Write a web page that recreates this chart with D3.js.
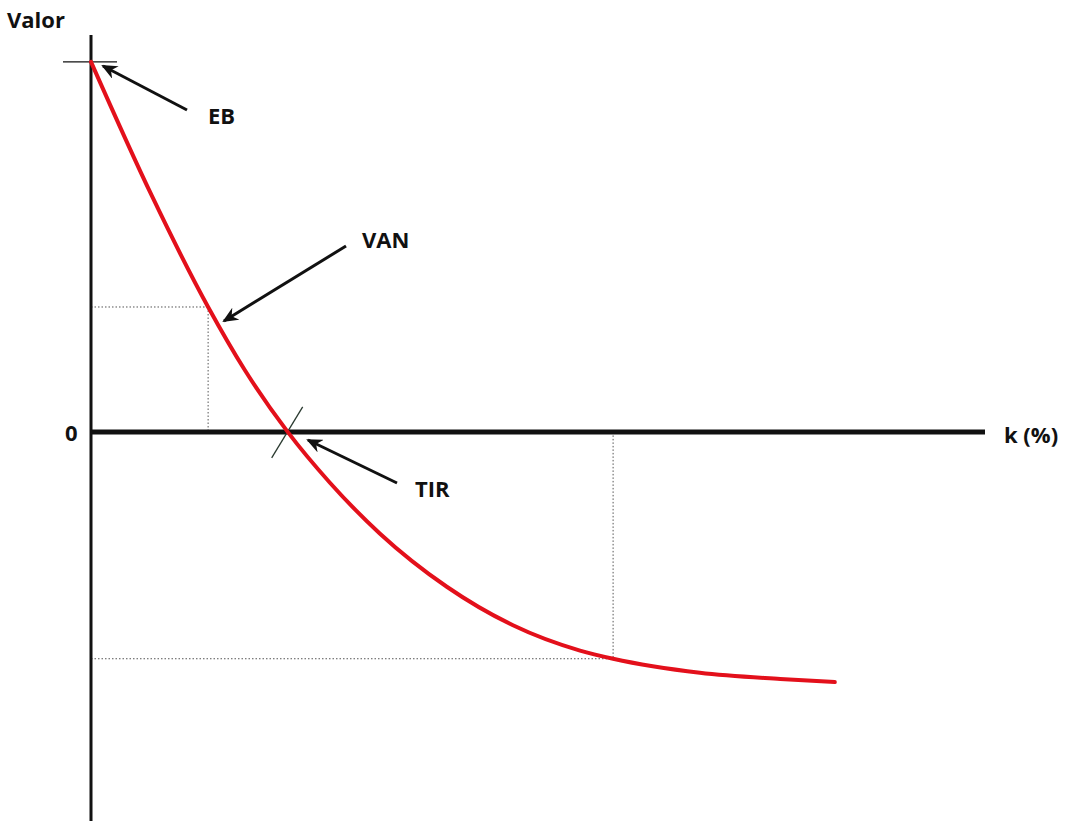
<!DOCTYPE html>
<html>
<head>
<meta charset="utf-8">
<script src="https://cdn.jsdelivr.net/npm/d3@7"></script>
<style>
  body { margin: 0; background: #fff; }
  text { font-family: "Open Sans", Lato, sans-serif; font-weight: bold; fill: #111; }
</style>
</head>
<body>
<div id="main"></div>
<script>
// curve of VAN against discount rate k (arbitrary units)
const kValues = [0, 6.8, 13.1, 17.2, 22, 26.7, 32.3, 39.8, 47.2, 54.7, 58.4, 68.1, 77.1, 83.2];
const vanValues = [95.1, 60.7, 32.1, 15.9, 0, -13, -26.1, -39.8, -49.7, -56.2, -58.3, -61.9, -63.5, -64.3];

// marked points: EB (k=0), VAN at a chosen k, TIR (van=0), a negative point
const ebPoint = { k: 0, v: 95.1 };
const vanPoint = { k: 13.1, v: 32.1 };
const tirPoint = { k: 22, v: 0 };
const negPoint = { k: 58.4, v: -58.3 };

const width = 1068;
const height = 821;

const x = d3.scaleLinear().domain([0, 100]).range([91, 985]);
const y = d3.scaleLinear().domain([-100, 102]).range([821, 35]);

const svg = d3.select('#main').append('svg').attr('width', width).attr('height', height);

svg.append('defs').append('marker')
  .attr('id', 'arrow')
  .attr('viewBox', '0 0 16 14')
  .attr('refX', 14)
  .attr('refY', 7)
  .attr('markerWidth', 16)
  .attr('markerHeight', 14)
  .attr('markerUnits', 'userSpaceOnUse')
  .attr('orient', 'auto')
  .append('path')
  .attr('d', 'M16,7 L0,0 L5,7 L0,14 Z')
  .attr('fill', '#111');

// dotted guides
const guide = (x1, y1, x2, y2) => svg.append('line')
  .attr('x1', x1).attr('y1', y1).attr('x2', x2).attr('y2', y2)
  .attr('stroke', '#555')
  .attr('stroke-width', 1)
  .attr('stroke-dasharray', '1.5,2');

guide(x(0), y(vanPoint.v), x(vanPoint.k), y(vanPoint.v));
guide(x(vanPoint.k), y(vanPoint.v), x(vanPoint.k), y(0));
guide(x(0), y(negPoint.v), x(negPoint.k), y(negPoint.v));
guide(x(negPoint.k), y(0), x(negPoint.k), y(negPoint.v));

// axes
svg.append('line')
  .attr('x1', x(0)).attr('x2', x(0))
  .attr('y1', 35).attr('y2', 821)
  .attr('stroke', '#111').attr('stroke-width', 3);

svg.append('line')
  .attr('x1', x(0)).attr('x2', x(100))
  .attr('y1', y(0)).attr('y2', y(0))
  .attr('stroke', '#111').attr('stroke-width', 5);

// EB tick
svg.append('line')
  .attr('x1', x(0) - 28).attr('x2', x(0) + 26)
  .attr('y1', y(ebPoint.v)).attr('y2', y(ebPoint.v))
  .attr('stroke', '#111').attr('stroke-width', 1.3);

// TIR tick
svg.append('line')
  .attr('x1', x(tirPoint.k) - 16).attr('y1', y(0) + 26)
  .attr('x2', x(tirPoint.k) + 15).attr('y2', y(0) - 25)
  .attr('stroke', '#2a3a30').attr('stroke-width', 1.3);

// curve
const line = d3.line()
  .x((d, i) => x(kValues[i]))
  .y((d) => y(d))
  .curve(d3.curveMonotoneX);

svg.append('path')
  .datum(vanValues)
  .attr('d', line)
  .attr('fill', 'none')
  .attr('stroke', '#e3101b')
  .attr('stroke-width', 4)
  .attr('stroke-linecap', 'round');

// arrows
const arrow = (x1, y1, x2, y2) => svg.append('line')
  .attr('x1', x1).attr('y1', y1).attr('x2', x2).attr('y2', y2)
  .attr('stroke', '#111')
  .attr('stroke-width', 3)
  .attr('marker-end', 'url(#arrow)');

arrow(187, 110, 103, 66);
arrow(346, 246, 224, 321);
arrow(397, 483, 308, 440);

// labels
svg.append('text').attr('x', 7).attr('y', 28).style('font-size', '22px').text('Valor');
svg.append('text').attr('x', 208).attr('y', 124).style('font-size', '22px').text('EB');
svg.append('text').attr('x', 362).attr('y', 248).style('font-size', '22px').text('VAN');
svg.append('text').attr('x', 415).attr('y', 497).style('font-size', '22px').text('TIR');
svg.append('text').attr('x', 65).attr('y', 441).style('font-size', '22px').text('0');
svg.append('text').attr('x', 1004).attr('y', 443).style('font-size', '22px').text('k (%)');
</script>
</body>
</html>
